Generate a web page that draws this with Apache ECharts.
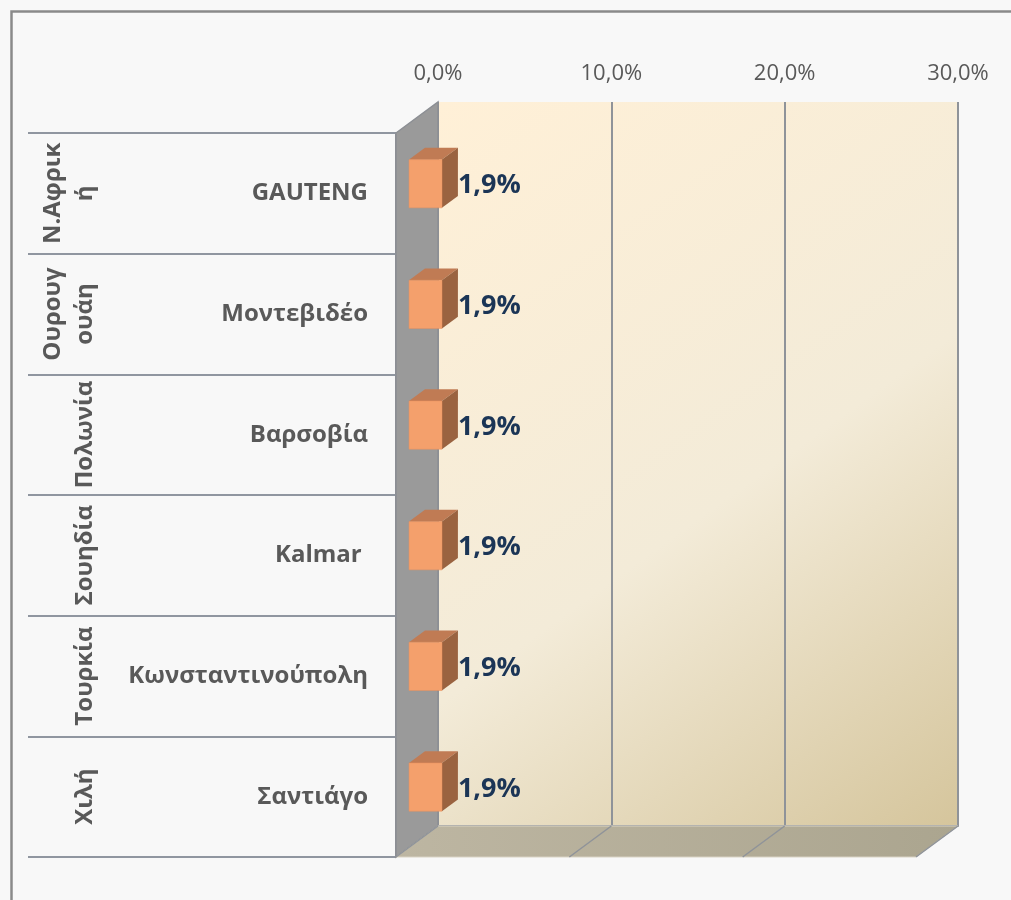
<!DOCTYPE html>
<html>
<head>
<meta charset="utf-8">
<script src="https://cdn.jsdelivr.net/npm/echarts@6/dist/echarts.min.js"></script>
<style>
html,body{margin:0;padding:0;background:#f8f8f8;}
#chart{width:1011px;height:900px;}
</style>
</head>
<body>
<div id="chart"></div>
<script>
// ---- data ----
// outer category labels, wrapped as they appear in the chart
const countries = ['Ν.Αφρικ\nή', 'Ουρουγ\nουάη', 'Πολωνία', 'Σουηδία', 'Τουρκία', 'Χιλή'];
const cities = ['GAUTENG', 'Μοντεβιδέο', 'Βαρσοβία', 'Kalmar ', 'Κωνσταντινούπολη', 'Σαντιάγο'];
const values = [0.019, 0.019, 0.019, 0.019, 0.019, 0.019];
const axisMin = 0, axisMax = 0.3, axisStep = 0.1;
const xTicks = [0, 0.1, 0.2, 0.3];

// ---- styling constants ----
const FONT = '"Open Sans", "Noto Sans", sans-serif';
const DX = 42, DY = -31;        // depth offset front -> back wall
const F0 = 0.31, F1 = 0.69;     // bar depth range
const GRID_LINE = '#8f9399';

function pct(v) { return (v * 100).toFixed(1).replace('.', ',') + '%'; }

const chart = echarts.init(document.getElementById('chart'));

function renderWalls(params, api) {
  const cs = params.coordSys;
  const x = cs.x, y = cs.y, w = cs.width, h = cs.height;
  const bottom = y + h;
  const children = [];
  children.push({
    type: 'polygon',
    shape: { points: [[x, y], [x + DX, y + DY], [x + DX, bottom + DY], [x, bottom]] },
    style: { fill: '#9a9a9a', stroke: '#8c8f94', lineWidth: 1.5 }
  });
  children.push({
    type: 'polygon',
    shape: { points: [[x, bottom], [x + DX, bottom + DY], [x + w + DX, bottom + DY], [x + w, bottom]] },
    style: {
      fill: new echarts.graphic.LinearGradient(0, 0, 1, 0, [
        { offset: 0, color: '#bdb6a2' }, { offset: 1, color: '#aba58f' }
      ]),
      stroke: '#d9d3c4', lineWidth: 1
    }
  });
  xTicks.forEach(function (t) {
    const fx = api.coord([t, 0])[0];
    children.push({
      type: 'line',
      shape: { x1: fx, y1: bottom, x2: fx + DX, y2: bottom + DY },
      style: { stroke: GRID_LINE, lineWidth: 1.5 }
    });
  });
  return { type: 'group', children: children };
}

function renderBar(params, api) {
  const i = api.value(1);
  const v = api.value(0);
  const p0 = api.coord([0, i]);
  const p1 = api.coord([v, i]);
  const band = api.size([0, 1])[1];
  const h = band * 0.4;
  const ox = DX * F0, oy = DY * F0;
  const bx = DX * (F1 - F0), by = DY * (F1 - F0);
  const xl = p0[0] + ox, xr = p1[0] + ox;
  const yc = p0[1] + oy, yt = yc - h / 2, yb = yc + h / 2;
  return {
    type: 'group',
    children: [
      { type: 'polygon', shape: { points: [[xl, yt], [xr, yt], [xr + bx, yt + by], [xl + bx, yt + by]] },
        style: { fill: '#c07b54' } },
      { type: 'polygon', shape: { points: [[xr, yt], [xr + bx, yt + by], [xr + bx, yb + by], [xr, yb]] },
        style: { fill: '#9a6340' } },
      { type: 'rect', shape: { x: xl, y: yt, width: xr - xl, height: h },
        style: { fill: '#f4a06c', stroke: '#e8915c', lineWidth: 0.5 } },
      { type: 'text', x: xr + bx, y: yc + 2,
        style: { text: pct(v), align: 'left', verticalAlign: 'middle',
          fontSize: 27, fontWeight: 'bold', fontFamily: FONT, fill: '#1b3556' } }
    ]
  };
}

const option = {
  backgroundColor: '#f8f8f8',
  animation: false,
  graphic: [{
    type: 'rect', left: 9, top: 9, shape: { width: 1100, height: 1000 },
    style: { fill: 'none', stroke: '#8a8a8a', lineWidth: 2.5 }, silent: true, z: 100
  }],
  grid: [
    { left: 438, right: 53, top: 102, bottom: 74, show: true, borderWidth: 0,
      backgroundColor: new echarts.graphic.LinearGradient(0, 0, 1, 1, [
        { offset: 0, color: '#fff0d7' }, { offset: 0.55, color: '#f3ebd8' }, { offset: 1, color: '#d5c59c' }
      ]) },
    { left: 396, right: 95, top: 133, bottom: 43 }
  ],
  xAxis: [
    { gridIndex: 0, type: 'value', position: 'top', min: axisMin, max: axisMax, interval: axisStep,
      axisLine: { show: true, lineStyle: { color: GRID_LINE, width: 2 } },
      axisTick: { show: true, length: 8, lineStyle: { color: GRID_LINE, width: 2 } },
      splitLine: { show: true, lineStyle: { color: GRID_LINE, width: 2 } },
      axisLabel: { formatter: pct, fontSize: 22, color: '#595959', fontFamily: FONT, margin: 17 } },
    { gridIndex: 1, type: 'value', min: axisMin, max: axisMax, interval: axisStep, show: false }
  ],
  yAxis: [
    { gridIndex: 0, type: 'value', show: false },
    { gridIndex: 1, type: 'category', data: cities, inverse: true,
      axisLine: { show: true, lineStyle: { color: '#8c8f94', width: 2 } },
      axisTick: { show: true, length: 368, interval: 0, lineStyle: { color: '#9096a0', width: 2 } },
      axisLabel: { interval: 0, margin: 28, fontSize: 24, fontWeight: 'bold', color: '#595959', fontFamily: FONT } },
    { gridIndex: 1, type: 'category', data: countries, inverse: true, position: 'left', offset: 295,
      axisLine: { show: false }, axisTick: { show: false },
      axisLabel: { interval: 0, rotate: 90, margin: 0, fontSize: 24, fontWeight: 'bold', color: '#595959',
        fontFamily: FONT, lineHeight: 32, hideOverlap: false } }
  ],
  series: [
    { type: 'custom', name: 'walls', xAxisIndex: 1, yAxisIndex: 1, clip: false, z: 1, silent: true,
      renderItem: renderWalls, data: [[0, 0]] },
    { type: 'custom', name: 'bars', xAxisIndex: 1, yAxisIndex: 1, clip: false, z: 5,
      renderItem: renderBar, encode: { x: 0, y: 1 },
      data: values.map(function (v, i) { return [v, i]; }) }
  ]
};
chart.setOption(option);
</script>
</body>
</html>
